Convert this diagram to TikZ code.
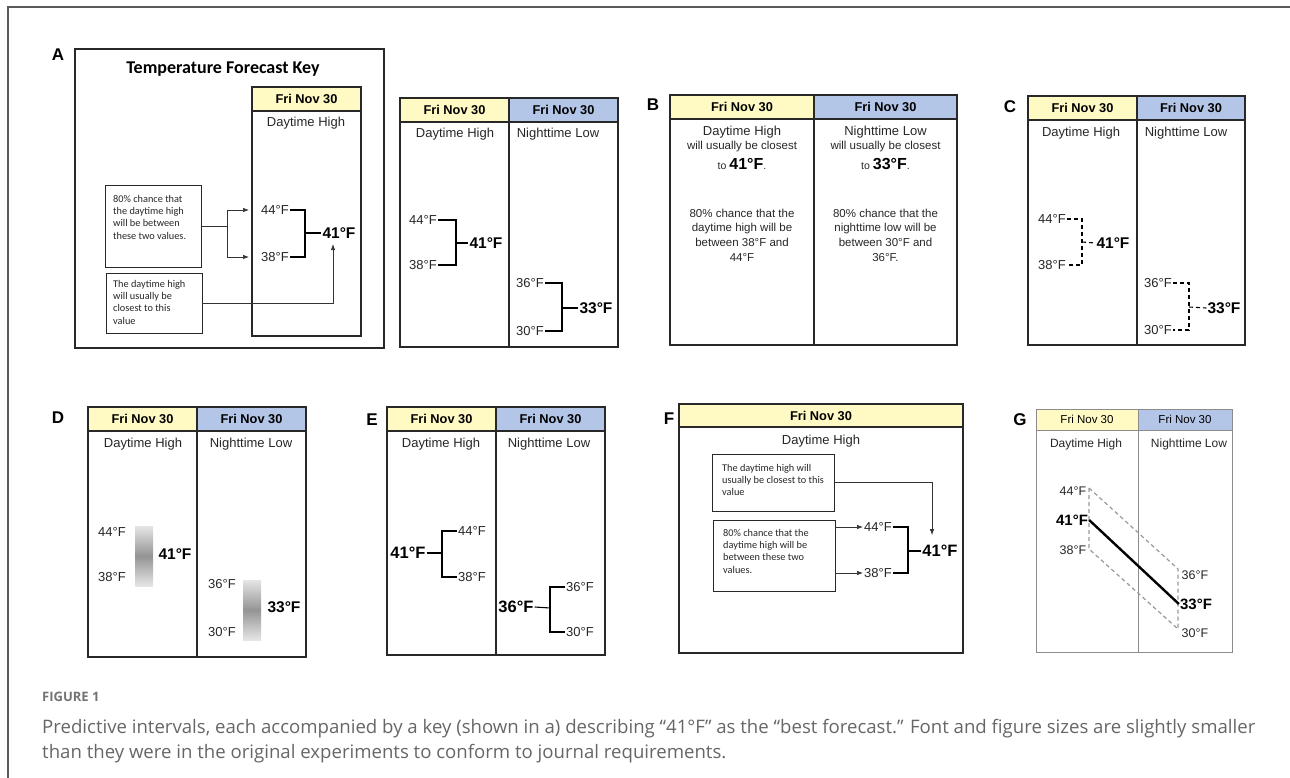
\documentclass[tikz,border=0pt]{standalone}
\usepackage{fontspec}
\setmainfont{Liberation Sans}
\newfontfamily\calib{Carlito}
\newfontfamily\capfont{Open Sans}
\usetikzlibrary{arrows.meta}

\definecolor{dayyellow}{RGB}{255,250,196}
\definecolor{nightblue}{RGB}{180,198,231}
\definecolor{boxgray}{RGB}{40,40,40}

\begin{document}
\begin{tikzpicture}[x=1pt, y=-1pt,
    boxline/.style={draw=boxgray, line width=1.3pt},
    dayhd/.style={draw=boxgray, line width=1.3pt, fill=dayyellow, font=\bfseries\fontsize{12.8}{14}\selectfont, inner sep=0pt},
    nighthd/.style={dayhd, fill=nightblue},
    coltitle/.style={font=\fontsize{13}{15}\selectfont, text=black!85},
    temp/.style={font=\fontsize{13}{15}\selectfont, inner sep=1pt, text=black!85},
    best/.style={font=\bfseries\fontsize{15.5}{18}\selectfont, inner sep=1pt},
    notebox/.style={draw=boxgray, line width=0.9pt, inner sep=0pt},
    notetext/.style={font=\calib\fontsize{10.3}{12.3}\selectfont, align=left, inner sep=0pt, text=black!85},
    btext/.style={font=\fontsize{11.5}{14.7}\selectfont, align=center, text=black!85},
    brk/.style={line width=1.1pt},
    dbrk/.style={line width=1.1pt, dash pattern=on 4pt off 3pt},
    arr/.style={-{Latex[length=6pt,width=4.5pt]}, line width=0.7pt, draw=black!80},
    panlab/.style={font=\bfseries\fontsize{17}{20}\selectfont},
    capstyle/.style={font=\capfont\fontsize{18.6}{22}\selectfont, text=black!60, inner sep=0pt}]

    \useasboundingbox (0,0) rectangle (1290,778);
    \draw[line width=1.2pt, draw=black!65] (8,778) -- (8,7) -- (1290,7);

    % Panel A: the key
    \node (labA) [panlab] at (58,55) {A};
    \draw[boxline] (75,49) rectangle (384,348);
    \node (keytitle) [font=\calib\bfseries\fontsize{18}{21}\selectfont] at (223,69) {Temperature Forecast Key};
    \node (ahd) [dayhd, minimum width=109, minimum height=24] at (306.5,99) {Fri Nov 30};
    \draw[boxline] (252,111) rectangle (361,336);
    \node (adt) [coltitle] at (306,123) {Daytime High};
    \node (a44) [temp] at (275,210) {44°F};
    \node (a38) [temp] at (275,257) {38°F};
    \coordinate (ak) at (305,233);
    \node (a41) [best] at (339,233) {41°F};
    \draw[brk] (a44.east) -| (ak) |- (a38.east);
    \draw[brk] (ak) -- (a41.west);

    \node (anote1) [notebox, minimum width=96, minimum height=82] at (153,226) {};
    \node (anote1t) [notetext, anchor=north west] at (113,195) {80\% chance that\\the daytime high\\will be between\\these two values.};
    \node (anote2) [notebox, minimum width=96, minimum height=60] at (154,303) {};
    \node (anote2t) [notetext, anchor=north west] at (113,280) {The daytime high\\will usually be\\closest to this\\value};

    % Arrows from the notes
    \coordinate (asplit) at (227,226);
    \draw[line width=0.7pt, draw=black!80] (anote1.east) -- (asplit);
    \draw[arr] (asplit) |- ([xshift=-11pt]a44.west);
    \draw[arr] (asplit) |- ([xshift=-11pt]a38.west);
    \draw[arr, shorten >=4.5pt] (anote2.east) -| ([xshift=-6pt]a41.south);

    % Plain brackets
    \node (phd1) [dayhd, minimum width=109, minimum height=24] at (454.5,110) {Fri Nov 30};
    \node (phd2) [nighthd, minimum width=109, minimum height=24] at (563.5,110) {Fri Nov 30};
    \draw[boxline] (400,122) rectangle (618,347);
    \draw[boxline] (509,122) -- (509,347);
    \node (pdt) [coltitle] at (455,134) {Daytime High};
    \node (pnt) [coltitle] at (558,134) {Nighttime Low};
    \node (p44) [temp] at (423,220) {44°F};
    \node (p38) [temp] at (423,265) {38°F};
    \coordinate (pk) at (456,243);
    \node (p41) [best] at (486,243) {41°F};
    \draw[brk] (p44.east) -| (pk) |- (p38.east);
    \draw[brk] (pk) -- (p41.west);
    \node (p36) [temp] at (530,283) {36°F};
    \node (p30) [temp] at (530,331) {30°F};
    \coordinate (pk2) at (562,308);
    \node (p33) [best] at (596,308) {33°F};
    \draw[brk] (p36.east) -| (pk2) |- (p30.east);
    \draw[brk] (pk2) -- (p33.west);

    % Panel B: text only
    \node (labB) [panlab] at (653,105) {B};
    \node (bhd1) [dayhd, minimum width=144, minimum height=24] at (742,107) {Fri Nov 30};
    \node (bhd2) [nighthd, minimum width=143, minimum height=24] at (885.5,107) {Fri Nov 30};
    \draw[boxline] (670,119) rectangle (957,345);
    \draw[boxline] (814,119) -- (814,345);
    \node (bdt1) [coltitle] at (742,132) {Daytime High};
    \node (bdt2) [font=\fontsize{11.5}{13}\selectfont, text=black!85] at (742,147) {will usually be closest};
    \node (bdt3) [font=\fontsize{10.5}{13}\selectfont, text=black!85] at (742,164) {to {\bfseries\fontsize{16}{19}\selectfont\color{black} 41°F}.};
    \node (bdt4) [btext] at (742,235) {80\% chance that the\\daytime high will be\\between 38°F and\\44°F};
    \node (bnt1) [coltitle] at (885.5,132) {Nighttime Low};
    \node (bnt2) [font=\fontsize{11.5}{13}\selectfont, text=black!85] at (885.5,147) {will usually be closest};
    \node (bnt3) [font=\fontsize{10.5}{13}\selectfont, text=black!85] at (885.5,164) {to {\bfseries\fontsize{16}{19}\selectfont\color{black} 33°F}.};
    \node (bnt4) [btext] at (885.5,235) {80\% chance that the\\nighttime low will be\\between 30°F and\\36°F.};

    % Panel C: dashed brackets
    \node (labC) [panlab] at (1010,107) {C};
    \node (chd1) [dayhd, minimum width=109, minimum height=24] at (1082.5,108) {Fri Nov 30};
    \node (chd2) [nighthd, minimum width=108, minimum height=24] at (1191,108) {Fri Nov 30};
    \draw[boxline] (1028,120) rectangle (1245,345);
    \draw[boxline] (1137,120) -- (1137,345);
    \node (cdt) [coltitle] at (1081,133) {Daytime High};
    \node (cnt) [coltitle] at (1186,133) {Nighttime Low};
    \node (c44) [temp] at (1052,219) {44°F};
    \node (c38) [temp] at (1052,265) {38°F};
    \coordinate (ck) at (1082,242);
    \node (c41) [best] at (1113,243) {41°F};
    \draw[dbrk] (c44.east) -| (ck) |- (c38.east);
    \draw[dbrk] (ck) -- (c41.west);
    \node (c36) [temp] at (1158,283) {36°F};
    \node (c30) [temp] at (1158,330) {30°F};
    \coordinate (ck2) at (1189,307);
    \node (c33) [best] at (1224,308) {33°F};
    \draw[dbrk] (c36.east) -| (ck2) |- (c30.east);
    \draw[dbrk] (ck2) -- (c33.west);

    % Panel D: shaded bars
    \node (labD) [panlab] at (58,418) {D};
    \node (dhd1) [dayhd, minimum width=109, minimum height=24] at (142.5,419) {Fri Nov 30};
    \node (dhd2) [nighthd, minimum width=109, minimum height=24] at (251.5,419) {Fri Nov 30};
    \draw[boxline] (88,431) rectangle (306,657);
    \draw[boxline] (197,431) -- (197,657);
    \node (ddt) [coltitle] at (143,444) {Daytime High};
    \node (dnt) [coltitle] at (251,444) {Nighttime Low};
    \node (d44) [temp] at (112,532) {44°F};
    \node (d38) [temp] at (112,577) {38°F};
    \shade[top color=black!10, bottom color=black!10, middle color=black!42] (135,526) rectangle (153,586);
    \node (d41) [best] at (175,554) {41°F};
    \node (d36) [temp] at (222,584) {36°F};
    \node (d30) [temp] at (222,632) {30°F};
    \shade[top color=black!10, bottom color=black!10, middle color=black!42] (243,580) rectangle (261,640);
    \node (d33) [best] at (284,607) {33°F};

    % Panel E: brackets turned round
    \node (labE) [panlab] at (372,420) {E};
    \node (ehd1) [dayhd, minimum width=109, minimum height=24] at (441.5,419) {Fri Nov 30};
    \node (ehd2) [nighthd, minimum width=109, minimum height=24] at (550.5,419) {Fri Nov 30};
    \draw[boxline] (387,431) rectangle (605,655);
    \draw[boxline] (496,431) -- (496,655);
    \node (edt) [coltitle] at (441,444) {Daytime High};
    \node (ent) [coltitle] at (549,444) {Nighttime Low};
    \node (e41) [best, font=\bfseries\fontsize{16.5}{19}\selectfont] at (408,553) {41°F};
    \coordinate (ek) at (442,553);
    \node (e44) [temp] at (472,531) {44°F};
    \node (e38) [temp] at (472,577) {38°F};
    \draw[brk] (e41.east) -- (ek);
    \draw[brk] (e44.west) -| (ek) |- (e38.west);
    \node (e36b) [best, font=\bfseries\fontsize{16.5}{19}\selectfont] at (516,607) {36°F};
    \coordinate (ek2) at (550,608);
    \node (e36) [temp] at (580,587) {36°F};
    \node (e30) [temp] at (580,632) {30°F};
    \draw[brk] (e36b.east) -- (ek2);
    \draw[brk] (e36.west) -| (ek2) |- (e30.west);

    % Panel F: key inside the box
    \node (labF) [panlab] at (669,419) {F};
    \node (fhd) [dayhd, minimum width=284, minimum height=23] at (821,415.5) {Fri Nov 30};
    \draw[boxline] (679,427) rectangle (963,653);
    \node (fdt) [coltitle] at (821,441) {Daytime High};
    \node (fnote1) [notebox, minimum width=122, minimum height=57] at (773,482.5) {};
    \node (fnote1t) [notetext, anchor=north west] at (722,464) {The daytime high will\\usually be closest to this\\value};
    \node (fnote2) [notebox, minimum width=122, minimum height=71] at (774,555.5) {};
    \node (fnote2t) [notetext, anchor=north west] at (723,529) {80\% chance that the\\daytime high will be\\between these two\\values.};
    \node (f44) [temp] at (878,527) {44°F};
    \node (f38) [temp] at (878,573) {38°F};
    \coordinate (fk) at (908,551);
    \node (f41) [best, font=\bfseries\fontsize{16.5}{19}\selectfont] at (940,551) {41°F};
    \draw[brk] (f44.east) -| (fk) |- (f38.east);
    \draw[brk] (fk) -- (f41.west);
    \draw[arr] (fnote2.east |- f44.west) -- (f44.west);
    \draw[arr] (fnote2.east |- f38.west) -- (f38.west);
    \draw[arr, shorten >=9pt] (fnote1.east) -| ([xshift=-8pt]f41.north);

    % Panel G: line between the two days
    \node (labG) [panlab] at (1020,420) {G};
    \node (ghd1) [dayhd, draw=black!45, line width=0.8pt, font=\fontsize{11.5}{13}\selectfont, minimum width=102, minimum height=21] at (1087,419.5) {Fri Nov 30};
    \node (ghd2) [nighthd, draw=black!45, line width=0.8pt, font=\fontsize{11.5}{13}\selectfont, minimum width=94, minimum height=21] at (1185,419.5) {Fri Nov 30};
    \draw[draw=black!45, line width=0.8pt] (1036,430) rectangle (1232,652);
    \draw[draw=black!45, line width=0.8pt] (1138,430) -- (1138,652);
    \node (gdt) [coltitle, font=\fontsize{12}{14}\selectfont] at (1086,444) {Daytime High};
    \node (gnt) [coltitle, font=\fontsize{12}{14}\selectfont] at (1189,444) {Nighttime Low};
    \node (g44) [temp, font=\fontsize{12.5}{15}\selectfont] at (1073,491) {44°F};
    \node (g41) [best, font=\bfseries\fontsize{15}{17}\selectfont] at (1072,520) {41°F};
    \node (g38) [temp, font=\fontsize{12.5}{15}\selectfont] at (1073,550) {38°F};
    \node (g36) [temp, font=\fontsize{12.5}{15}\selectfont] at (1195,575) {36°F};
    \node (g33) [best, font=\bfseries\fontsize{15}{17}\selectfont] at (1196,604) {33°F};
    \node (g30) [temp, font=\fontsize{12.5}{15}\selectfont] at (1195,633) {30°F};
    \coordinate (gtl) at (1089,488);
    \coordinate (gbl) at (1089,549);
    \coordinate (gtr) at (1178,569);
    \coordinate (gbr) at (1178,629);
    \draw[draw=black!40, line width=1.2pt, dash pattern=on 4pt off 3pt] (gtl) -- (gtr) -- (gbr) -- (gbl) -- cycle;
    \draw[line width=2.4pt] (g41.east) -- (g33.west);

    % Caption
    \node (capfig) [anchor=west, font=\capfont\bfseries\fontsize{13}{15}\selectfont, text=black!55, inner sep=0pt] at (42,697) {FIGURE 1};
    \node (capl1) [anchor=west, capstyle] at (42,729) {Predictive intervals, each accompanied by a key (shown in a) describing “41°F” as the “best forecast.” Font and figure sizes are slightly smaller};
    \node (capl2) [anchor=west, capstyle] at (42,754) {than they were in the original experiments to conform to journal requirements.};

\end{tikzpicture}
\end{document}
